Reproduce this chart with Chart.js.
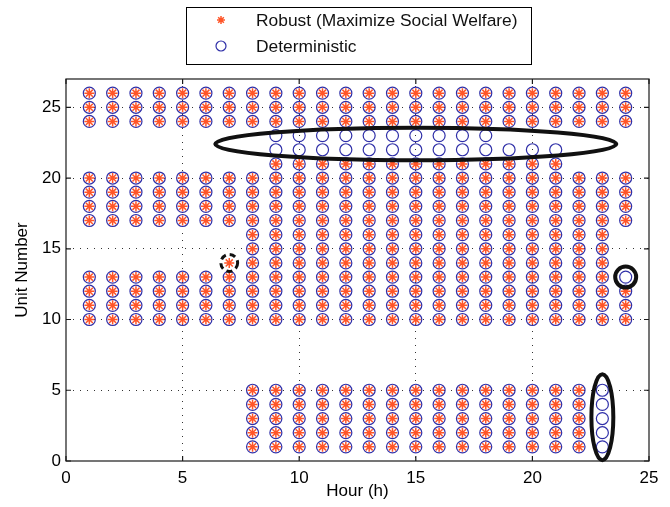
<!DOCTYPE html>
<html>
<head>
<meta charset="utf-8">
<script src="https://cdn.jsdelivr.net/npm/chart.js@4/dist/chart.umd.min.js"></script>
<style>
  html, body { margin: 0; padding: 0; background: #fff; }
  #wrap { width: 670px; height: 507px; }
</style>
</head>
<body>
<div id="wrap"><canvas id="c" width="670" height="507"></canvas></div>
<script>
// Hours of the scheduling horizon
const hours = [1, 2, 3, 4, 5, 6, 7, 8, 9, 10, 11, 12, 13, 14, 15, 16, 17, 18, 19, 20, 21, 22, 23, 24];
const xTicks = [0, 5, 10, 15, 20, 25];
const yTicks = [0, 5, 10, 15, 20, 25];

// Commitment runs: [unit, first hour on, last hour on]
const robustRuns = [
  [26, 1, 24], [25, 1, 24], [24, 1, 24],
  [21, 9, 21],
  [20, 1, 24], [19, 1, 24], [18, 1, 24], [17, 1, 24],
  [16, 8, 23], [15, 8, 23], [14, 8, 23], [14, 7, 7],
  [13, 1, 23], [12, 1, 24], [11, 1, 24], [10, 1, 24],
  [5, 8, 22], [4, 8, 22], [3, 8, 22], [2, 8, 22], [1, 8, 22]
];
const deterministicRuns = [
  [26, 1, 24], [25, 1, 24], [24, 1, 24],
  [23, 9, 18], [22, 9, 21], [21, 9, 21],
  [20, 1, 24], [19, 1, 24], [18, 1, 24], [17, 1, 24],
  [16, 8, 23], [15, 8, 23], [14, 8, 23],
  [13, 1, 24], [12, 1, 24], [11, 1, 24], [10, 1, 24],
  [5, 8, 23], [4, 8, 23], [3, 8, 23], [2, 8, 23], [1, 8, 23]
];

// Rings marking schedule differences (centre and half-extents in hours / units)
const highlightRings = [
  { hour: 15.0, unit: 22.4, halfHours: 8.6, halfUnits: 1.15, dashed: false },
  { hour: 24.0, unit: 13.0, halfHours: 0.45, halfUnits: 0.74, dashed: false },
  { hour: 23.0, unit: 3.1, halfHours: 0.47, halfUnits: 3.04, dashed: false },
  { hour: 7.0, unit: 14.0, halfHours: 0.36, halfUnits: 0.6, dashed: true }
];

function runsToPoints(runs) {
  const pts = [];
  runs.forEach(([unit, first, last]) => {
    hours.filter(h => h >= first && h <= last).forEach(h => pts.push({ x: h, y: unit }));
  });
  return pts;
}

const FONT = "'Liberation Sans', Arial, Helvetica, sans-serif";

// Box frame with inward tick marks
const framePlugin = {
  id: 'frame',
  afterDatasetsDraw(chart) {
    const { ctx, chartArea: a, scales } = chart;
    ctx.save();
    ctx.strokeStyle = '#1a1a1a';
    ctx.lineWidth = 1.2;
    ctx.strokeRect(a.left, a.top, a.right - a.left, a.bottom - a.top);
    ctx.beginPath();
    scales.x.ticks.forEach(t => {
      const px = scales.x.getPixelForValue(t.value);
      ctx.moveTo(px, a.bottom); ctx.lineTo(px, a.bottom - 5);
      ctx.moveTo(px, a.top); ctx.lineTo(px, a.top + 5);
    });
    scales.y.ticks.forEach(t => {
      const py = scales.y.getPixelForValue(t.value);
      ctx.moveTo(a.left, py); ctx.lineTo(a.left + 5, py);
      ctx.moveTo(a.right, py); ctx.lineTo(a.right - 5, py);
    });
    ctx.stroke();
    ctx.restore();
  }
};

// Black rings drawn in data coordinates
const ringPlugin = {
  id: 'rings',
  afterDatasetsDraw(chart) {
    const { ctx, scales: { x, y } } = chart;
    ctx.save();
    ctx.strokeStyle = '#111';
    highlightRings.forEach(r => {
      const cx = x.getPixelForValue(r.hour);
      const cy = y.getPixelForValue(r.unit);
      const rx = Math.abs(x.getPixelForValue(r.hour + r.halfHours) - cx);
      const ry = Math.abs(y.getPixelForValue(r.unit + r.halfUnits) - cy);
      ctx.lineWidth = r.dashed ? 3 : 4;
      ctx.setLineDash(r.dashed ? [6, 4] : []);
      ctx.beginPath();
      ctx.ellipse(cx, cy, rx, ry, 0, 0, Math.PI * 2);
      ctx.stroke();
    });
    ctx.restore();
  }
};

// Boxed legend stacked above the axes
const boxLegendPlugin = {
  id: 'boxLegend',
  afterDraw(chart) {
    const { ctx } = chart;
    ctx.save();
    ctx.strokeStyle = '#000';
    ctx.lineWidth = 1;
    ctx.strokeRect(186.5, 7.5, 345, 57);
    ctx.font = '17.4px ' + FONT;
    ctx.textBaseline = 'middle';
    ctx.textAlign = 'left';
    chart.data.datasets.forEach((ds, i) => {
      const ly = 20 + i * 26;
      ctx.strokeStyle = ds.borderColor;
      ctx.fillStyle = 'rgba(0,0,0,0)';
      ctx.lineWidth = ds.pointBorderWidth;
      Chart.helpers.drawPoint(ctx, { pointStyle: ds.pointStyle, radius: ds.pointRadius - 1, borderWidth: ds.pointBorderWidth, rotation: 0 }, 221, ly);
      ctx.fillStyle = '#111';
      ctx.fillText(ds.label, 256, ly + 1);
    });
    ctx.restore();
  }
};

const gridColor = (max) => (c) => (c.tick && c.tick.value > 0 && c.tick.value < max) ? '#333' : 'rgba(0,0,0,0)';

new Chart(document.getElementById('c'), {
  type: 'scatter',
  data: {
    datasets: [
      {
        label: 'Robust (Maximize Social Welfare)',
        data: runsToPoints(robustRuns),
        pointStyle: 'star',
        pointRadius: 5,
        pointBorderWidth: 1.5,
        borderColor: '#ff5528',
        backgroundColor: '#ff5528'
      },
      {
        label: 'Deterministic',
        data: runsToPoints(deterministicRuns),
        pointStyle: 'circle',
        pointRadius: 6,
        pointBorderWidth: 1.2,
        borderColor: '#2f2fa8',
        backgroundColor: 'rgba(0,0,0,0)'
      }
    ]
  },
  options: {
    responsive: false,
    animation: false,
    devicePixelRatio: 1,
    layout: { padding: { top: 79, right: 21, left: 0, bottom: 0 } },
    plugins: { legend: { display: false }, tooltip: { enabled: false } },
    scales: {
      x: {
        type: 'linear', min: 0, max: 25,
        afterBuildTicks: s => { s.ticks = xTicks.map(v => ({ value: v })); },
        afterFit: s => { s.height = 46; },
        grid: { drawTicks: false, color: gridColor(25), lineWidth: 1 },
        border: { display: false, dash: [1, 6] },
        ticks: { padding: 7, color: '#000', font: { family: FONT, size: 17 }, maxRotation: 0, autoSkip: false },
        title: { display: true, text: 'Hour (h)', color: '#000', font: { family: FONT, size: 17 }, padding: { top: 0, bottom: 5 } }
      },
      y: {
        type: 'linear', min: 0, max: 27,
        afterBuildTicks: s => { s.ticks = yTicks.map(v => ({ value: v })); },
        afterFit: s => { s.width = 66; },
        grid: { drawTicks: false, color: gridColor(27), lineWidth: 1 },
        border: { display: false, dash: [1, 6] },
        ticks: { padding: 5, color: '#000', font: { family: FONT, size: 17 }, autoSkip: false },
        title: { display: true, text: 'Unit Number', color: '#000', font: { family: FONT, size: 17 }, padding: { top: 12, bottom: 0 } }
      }
    }
  },
  plugins: [framePlugin, ringPlugin, boxLegendPlugin]
});
</script>
</body>
</html>
